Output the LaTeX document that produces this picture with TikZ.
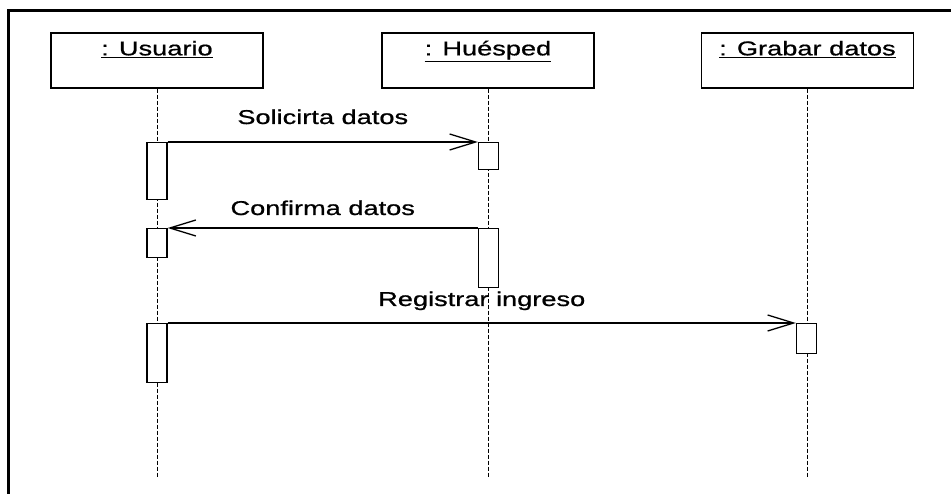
\documentclass[tikz,border=0pt]{standalone}
\usepackage{fontspec}
\setmainfont{Liberation Sans}[FakeStretch=1.36, FakeBold=0.8]
\usetikzlibrary{arrows.meta,positioning}

\begin{document}
\begin{tikzpicture}[x=1pt, y=-1pt, line width=1.3pt,
  every node/.style={font=\fontsize{20pt}{23pt}\selectfont},
  object/.style={draw, minimum width=212pt, minimum height=55pt, inner sep=0pt},
  objname/.style={anchor=base, inner sep=0pt, yshift=-23pt},
  activation/.style={draw, fill=white, minimum width=20pt, inner sep=0pt, anchor=north},
  lifeline/.style={dash pattern=on 4pt off 2pt, line width=0.9pt},
  message/.style={-{Straight Barb[length=26pt,width=16pt]}},
  msglabel/.style={inner sep=0pt, anchor=base}]
\path[use as bounding box] (0,0) rectangle (951,494);
\draw[line width=3pt] (8,494) -- (8,11) -- (951,11);
\node[object, label={[objname]north:\underline{: Usuario}}] (Usuario) at (157,60.5) {};
\node[object, label={[objname]north:\underline{: Huésped}}] (Huesped) at (488,60.5) {};
\node[object, label={[objname]north:\underline{: Grabar datos}}] (Grabar) at (807.5,60.5) {};
\coordinate (end) at (0,478);
\draw[lifeline] (Usuario) -- (Usuario |- end);
\draw[lifeline] (Huesped) -- (Huesped |- end);
\draw[lifeline] (Grabar) -- (Grabar |- end);
\node[activation, minimum height=57pt] (UsuarioAct1) at (157,142) {};
\node[activation, minimum height=27pt] (HuespedAct1) at (488.5,142) {};
\node[activation, minimum height=29pt] (UsuarioAct2) at (157,228) {};
\node[activation, minimum height=59pt] (HuespedAct2) at (488.5,228) {};
\node[activation, minimum height=59pt] (UsuarioAct3) at (157,323) {};
\node[activation, minimum height=30pt] (GrabarAct1) at (806.5,323) {};
\draw[message] (UsuarioAct1.north east) -- node[msglabel, yshift=18pt] (SolicitaLbl) {Solicirta datos} (HuespedAct1.north west);
\draw[message] (HuespedAct2.north west) -- node[msglabel, yshift=13pt] (ConfirmaLbl) {Confirma datos} (UsuarioAct2.north east);
\draw[message] (UsuarioAct3.north east) -- node[msglabel, yshift=17pt] (RegistrarLbl) {Registrar ingreso} (GrabarAct1.north west);
\end{tikzpicture}
\end{document}
